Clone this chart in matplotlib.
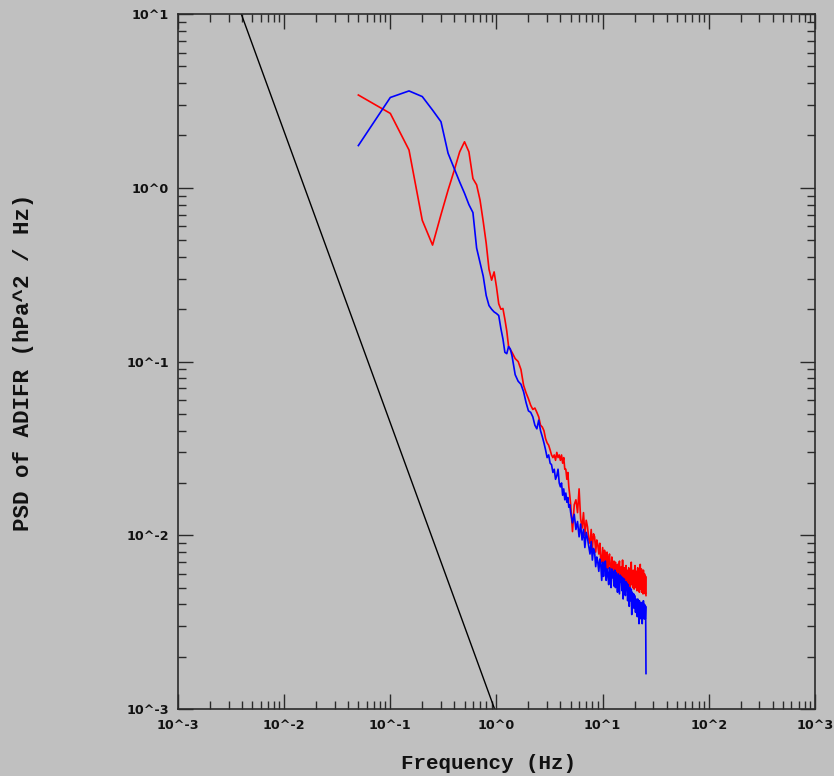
import numpy as np
import matplotlib
matplotlib.use('Agg')
import matplotlib.pyplot as plt
from matplotlib.ticker import FixedLocator, FixedFormatter, LogLocator, NullFormatter

# frequency grid (Hz): 0.05 steps up to 1.4, 0.1 steps to 5, 0.2 steps to 25.6
freq = np.concatenate([np.round(np.arange(0.05, 1.401, 0.05), 2),
                       np.round(np.arange(1.5, 5.01, 0.1), 1),
                       np.round(np.arange(5.2, 25.61, 0.2), 1)])

psd_red = [
    # 0.05 - 1.40
    3.42, 2.68, 1.65, 0.65, 0.468, 0.70, 0.97, 1.26, 1.61, 1.84,
    1.61, 1.13, 1.04, 0.85, 0.64, 0.48, 0.34, 0.294, 0.328, 0.269,
    0.215, 0.200, 0.202, 0.175, 0.150, 0.122, 0.117, 0.113,
    # 1.5 - 5.0
    0.104, 0.100, 0.090, 0.073, 0.066, 0.061, 0.056, 0.053, 0.054, 0.051,
    0.048, 0.043, 0.042, 0.040, 0.036, 0.034, 0.033, 0.031, 0.029, 0.028,
    0.029, 0.027, 0.030, 0.028, 0.029, 0.027, 0.029, 0.026, 0.028, 0.024,
    0.024, 0.021, 0.023, 0.019, 0.017, 0.015,
    # 5.2 - 25.6
    0.0105, 0.0150, 0.0160, 0.0135, 0.0185, 0.0125, 0.0110, 0.0135, 0.0100, 0.0122,
    0.0112, 0.0095, 0.0090, 0.0108, 0.0084, 0.0102, 0.0098, 0.0080, 0.0094, 0.0088,
    0.0078, 0.0090, 0.0072, 0.0070, 0.0085, 0.0068, 0.0082, 0.0078, 0.0065, 0.0080,
    0.0064, 0.0072, 0.0078, 0.0061, 0.0060, 0.0075, 0.0069, 0.0058, 0.0071, 0.0062,
    0.0070, 0.0057, 0.0056, 0.0068, 0.0054, 0.0066, 0.0071, 0.0055, 0.0060, 0.0066,
    0.0053, 0.0072, 0.0058, 0.0052, 0.0065, 0.0060, 0.0054, 0.0067, 0.0053, 0.0063,
    0.0058, 0.0051, 0.0065, 0.0062, 0.0050, 0.0055, 0.0064, 0.0070, 0.0052, 0.0060,
    0.0050, 0.0063, 0.0057, 0.0049, 0.0060, 0.0067, 0.0050, 0.0055, 0.0062, 0.0048,
    0.0058, 0.0065, 0.0048, 0.0054, 0.0061, 0.0047, 0.0062, 0.0068, 0.0049, 0.0057,
    0.0064, 0.0047, 0.0052, 0.0060, 0.0046, 0.0063, 0.0055, 0.0048, 0.0060, 0.0051,
    0.0046, 0.0058, 0.0045,
]

psd_blue = [
    # 0.05 - 1.40
    1.75, 3.31, 3.61, 3.35, 2.80, 2.40, 1.58, 1.29, 1.08, 0.93,
    0.80, 0.72, 0.45, 0.37, 0.31, 0.24, 0.21, 0.200, 0.193, 0.189,
    0.184, 0.155, 0.135, 0.113, 0.111, 0.122, 0.118, 0.108,
    # 1.5 - 5.0
    0.084, 0.077, 0.074, 0.067, 0.058, 0.052, 0.051, 0.048, 0.043, 0.041,
    0.046, 0.040, 0.037, 0.034, 0.031, 0.028, 0.029, 0.026, 0.0255, 0.023,
    0.024, 0.021, 0.022, 0.024, 0.020, 0.019, 0.020, 0.017, 0.0185, 0.016,
    0.0175, 0.0155, 0.0165, 0.0145, 0.0150, 0.0135,
    # 5.2 - 25.6
    0.0118, 0.0132, 0.0108, 0.0120, 0.0098, 0.0116, 0.0094, 0.0108, 0.0085, 0.0104,
    0.0096, 0.0086, 0.0078, 0.0092, 0.0072, 0.0084, 0.0080, 0.0066, 0.0075, 0.0070,
    0.0062, 0.0073, 0.0068, 0.0055, 0.0070, 0.0058, 0.0066, 0.0071, 0.0055, 0.0064,
    0.0060, 0.0052, 0.0065, 0.0058, 0.0050, 0.0064, 0.0057, 0.0062, 0.0051, 0.0063,
    0.0050, 0.0061, 0.0056, 0.0047, 0.0060, 0.0052, 0.0046, 0.0059, 0.0054, 0.0058,
    0.0048, 0.0057, 0.0043, 0.0053, 0.0056, 0.0047, 0.0045, 0.0054, 0.0050, 0.0053,
    0.0042, 0.0052, 0.0047, 0.0039, 0.0050, 0.0045, 0.0042, 0.0049, 0.0035, 0.0047,
    0.0044, 0.0040, 0.0046, 0.0038, 0.0045, 0.0041, 0.0036, 0.0043, 0.0039, 0.0042,
    0.0034, 0.0043, 0.0037, 0.0041, 0.0031, 0.0042, 0.0038, 0.0035, 0.0040, 0.0033,
    0.0041, 0.0036, 0.0031, 0.0040, 0.0034, 0.0042, 0.0037, 0.0033, 0.0040, 0.0035,
    0.0033, 0.0039, 0.0016,
]

# -5/3 reference slope
kol_freq = [0.001, 0.96]
kol_psd = [100.0, 0.001]

x_ticks = [1e-3, 1e-2, 1e-1, 1e0, 1e1, 1e2, 1e3]
x_labels = ['10^-3', '10^-2', '10^-1', '10^0', '10^1', '10^2', '10^3']
y_ticks = [1e-3, 1e-2, 1e-1, 1e0, 1e1]
y_labels = ['10^-3', '10^-2', '10^-1', '10^0', '10^1']

bg = '#c0c0c0'
axcol = '#2a2a2a'

fig = plt.figure(figsize=(8.34, 7.76), dpi=100, facecolor=bg)
ax = fig.add_axes([0.2134, 0.0863, 0.7638, 0.8956], facecolor=bg)

ax.plot(kol_freq, kol_psd, color='black', lw=1.0)
ax.plot(freq, psd_red, color='#ff0000', lw=1.2)
ax.plot(freq, psd_blue, color='#0000ff', lw=1.2)

ax.set_xscale('log')
ax.set_yscale('log')
ax.set_xlim(1e-3, 1e3)
ax.set_ylim(1e-3, 1e1)

ax.xaxis.set_major_locator(FixedLocator(x_ticks))
ax.xaxis.set_major_formatter(FixedFormatter(x_labels))
ax.yaxis.set_major_locator(FixedLocator(y_ticks))
ax.yaxis.set_major_formatter(FixedFormatter(y_labels))
for axis in (ax.xaxis, ax.yaxis):
    axis.set_minor_locator(LogLocator(base=10, subs=np.arange(2, 10), numticks=20))
    axis.set_minor_formatter(NullFormatter())

ax.tick_params(which='both', direction='in', top=True, right=True, color=axcol, width=1.0)
ax.tick_params(which='major', length=10.5)
ax.tick_params(which='minor', length=6)
ax.tick_params(axis='x', pad=7.5)
ax.tick_params(axis='y', pad=6.5)
for lab in ax.get_xticklabels() + ax.get_yticklabels():
    lab.set_fontweight('bold')
    lab.set_fontsize(9.2)
    lab.set_color('#111111')

for sp in ax.spines.values():
    sp.set_color(axcol)
    sp.set_linewidth(1.2)

ax.set_xlabel('Frequency (Hz)', family='Liberation Mono', weight='bold', fontsize=15,
              color='#111111', va='center')
ax.xaxis.set_label_coords(0.487, -0.078)
ax.set_ylabel('PSD of ADIFR (hPa^2 / Hz)', family='Liberation Mono', weight='bold',
              fontsize=16.2, color='#111111', va='center')
ax.yaxis.set_label_coords(-0.243, 0.499)

fig.savefig('out.png', dpi=100, facecolor=bg)
